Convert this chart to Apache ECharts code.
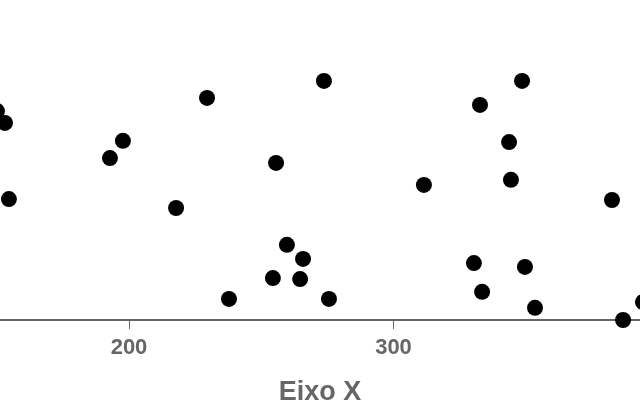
<!DOCTYPE html>
<html>
<head>
<meta charset="utf-8">
<script src="https://cdn.jsdelivr.net/npm/echarts@6/dist/echarts.min.js"></script>
<style>html,body{margin:0;padding:0;background:#fff}#c{width:640px;height:400px}</style>
</head>
<body>
<div id="c"></div>
<script>
var xValues = [150.1,153.1,154.6,192.8,197.7,217.8,229.5,237.8,254.4,255.6,259.7,264.7,265.8,273.7,275.6,311.5,330.4,332.7,333.5,343.7,344.4,348.6,349.7,353.5,382.6,386.8,394.3];
var yValues = [65.3,61.6,37.8,50.6,56.0,35.0,69.4,6.6,13.1,49.1,23.5,12.8,19.1,74.7,6.6,42.2,17.8,67.2,8.8,55.6,43.8,74.7,16.6,3.8,37.5,0.0,5.6];
var xTicks = [100, 200, 300, 400];
var axisTitle = 'Eixo X';

var points = xValues.map(function (x, i) { return [x, yValues[i]]; });

var chart = echarts.init(document.getElementById('c'), null, {renderer: 'canvas'});
chart.setOption({
  animation: false,
  backgroundColor: '#ffffff',
  title: {
    text: axisTitle,
    left: 'center',
    top: 374,
    textStyle: {fontFamily: 'Liberation Sans, Arial, sans-serif', fontSize: 27, fontWeight: 'bold', color: '#666666'}
  },
  grid: {left: -135.5, right: -18, top: 0, bottom: 80, containLabel: false, outerBoundsMode: 'none'},
  xAxis: {
    type: 'value',
    min: xTicks[0],
    max: xTicks[xTicks.length - 1],
    interval: 100,
    splitLine: {show: false},
    axisLine: {show: true, onZero: false, lineStyle: {color: '#666666', width: 2}},
    axisTick: {show: true, length: 9, lineStyle: {color: '#666666', width: 1}},
    axisLabel: {margin: 17, fontFamily: 'Liberation Sans, Arial, sans-serif', fontSize: 22, fontWeight: 'bold', color: '#666666', showMinLabel: true, showMaxLabel: true, hideOverlap: false}
  },
  yAxis: {
    type: 'value', min: 0, max: 100, show: false, splitLine: {show: false}
  },
  series: [{
    type: 'scatter',
    data: points,
    symbol: 'circle',
    symbolSize: 16,
    clip: false,
    itemStyle: {color: '#000000', opacity: 1}
  }]
});
</script>
</body>
</html>
